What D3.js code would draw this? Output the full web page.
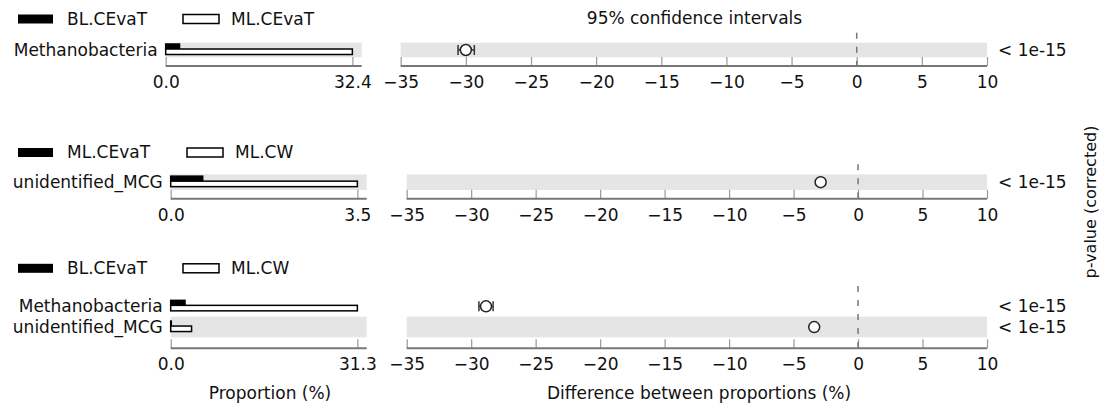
<!DOCTYPE html>
<html>
<head>
<meta charset="utf-8" />
<title>Extended error bar plot</title>
<style>
html, body {
	margin: 0px;
	padding: 0px;
	background: #fff;
}
svg text {
	font-family: "DejaVu Sans", sans-serif;
	font-size: 17px;
	fill: #111;
}
</style>
</head>
<body>

<svg id="chart" width="1101" height="407"></svg>

<script src="https://d3js.org/d3.v7.min.js"></script>
<script>

// panel 1 : BL.CEvaT vs ML.CEvaT
var groups1 = ["BL.CEvaT", "ML.CEvaT"];
var features1 = ["Methanobacteria"];
var propA1 = [2.4];
var propB1 = [32.4];
var diff1 = [-30.0];
var ciLow1 = [-30.6];
var ciHigh1 = [-29.35];
var pval1 = ["< 1e-15"];

// panel 2 : ML.CEvaT vs ML.CW
var groups2 = ["ML.CEvaT", "ML.CW"];
var features2 = ["unidentified_MCG"];
var propA2 = [0.6];
var propB2 = [3.5];
var diff2 = [-2.9];
var ciLow2 = [-3.0];
var ciHigh2 = [-2.8];
var pval2 = ["< 1e-15"];

// panel 3 : BL.CEvaT vs ML.CW
var groups3 = ["BL.CEvaT", "ML.CW"];
var features3 = ["Methanobacteria", "unidentified_MCG"];
var propA3 = [2.4, 0.1];
var propB3 = [31.3, 3.5];
var diff3 = [-28.85, -3.4];
var ciLow3 = [-29.4, -3.5];
var ciHigh3 = [-28.3, -3.3];
var pval3 = ["< 1e-15", "< 1e-15"];

// shared difference axis
var ciDomain = [-35, 10];
var ciTicks = [-35, -30, -25, -20, -15, -10, -5, 0, 5, 10];

var svg = d3.select("#chart");

// layout of each panel (pixels)
var panels = [
	{groups: groups1, features: features1, a: propA1, b: propB1, diff: diff1, lo: ciLow1, hi: ciHigh1, p: pval1,
	 legendY: 19, legend2X: 183, rowTop: 42.7, rowH: 14.6, axisY: 66, barX0: 165.7, ciX0: 400.7, shade: [0]},
	{groups: groups2, features: features2, a: propA2, b: propB2, diff: diff2, lo: ciLow2, hi: ciHigh2, p: pval2,
	 legendY: 152.5, legend2X: 187, rowTop: 174.3, rowH: 15.7, axisY: 198.7, barX0: 170.7, ciX0: 406.7, shade: [0]},
	{groups: groups3, features: features3, a: propA3, b: propB3, diff: diff3, lo: ciLow3, hi: ciHigh3, p: pval3,
	 legendY: 268.3, legend2X: 183, rowTop: 296, rowH: 20.7, axisY: 348.3, barX0: 170.7, ciX0: 406.7, shade: [1]}
];

panels.forEach(drawPanel);

// titles
svg.append("text")
	.attr("x", 694.5).attr("y", 18).attr("dy", "0.35em")
	.attr("text-anchor", "middle")
	.text("95% confidence intervals");

svg.append("text")
	.attr("x", 270).attr("y", 393).attr("dy", "0.35em")
	.attr("text-anchor", "middle")
	.text("Proportion (%)");

svg.append("text")
	.attr("x", 699).attr("y", 393).attr("dy", "0.35em")
	.attr("text-anchor", "middle")
	.text("Difference between proportions (%)");

svg.append("text")
	.attr("transform", "translate(1090,202) rotate(-90)")
	.attr("dy", "0.35em")
	.attr("text-anchor", "middle")
	.style("font-size", "16px")
	.text("p-value (corrected)");


function drawPanel(P) {
	var g = svg.append("g");

	var propMax = d3.max(P.b.concat(P.a));
	var x = d3.scaleLinear()
		.domain([0, propMax * 1.05])
		.range([P.barX0, P.barX0 + 196]);
	var xc = d3.scaleLinear()
		.domain(ciDomain)
		.range([P.ciX0, 987]);
	var y = d3.scaleBand()
		.domain(P.features)
		.range([P.rowTop, P.rowTop + P.rowH * P.features.length]);

	// legend
	g.append("rect")
		.attr("x", 18).attr("y", P.legendY - 4.5)
		.attr("width", 35).attr("height", 9)
		.attr("fill", "#000");
	g.append("text")
		.attr("x", 67).attr("y", P.legendY).attr("dy", "0.35em")
		.text(P.groups[0]);
	g.append("rect")
		.attr("x", P.legend2X).attr("y", P.legendY - 4.5)
		.attr("width", 36).attr("height", 9)
		.attr("fill", "#fff").attr("stroke", "#000").attr("stroke-width", 1.5);
	g.append("text")
		.attr("x", P.legend2X + 48).attr("y", P.legendY).attr("dy", "0.35em")
		.text(P.groups[1]);

	// grey row bands
	P.shade.forEach(function(i) {
		var f = P.features[i];
		g.append("rect")
			.attr("x", x.range()[0]).attr("y", y(f))
			.attr("width", x.range()[1] - x.range()[0]).attr("height", y.bandwidth())
			.attr("fill", "#e5e5e5");
		g.append("rect")
			.attr("x", xc.range()[0]).attr("y", y(f))
			.attr("width", xc.range()[1] - xc.range()[0]).attr("height", y.bandwidth())
			.attr("fill", "#e5e5e5");
	});

	// feature labels
	g.selectAll(".flabel")
		.data(P.features)
		.enter()
		.append("text")
			.attr("x", P.barX0 - 8)
			.attr("y", function(d) { return y(d) + y.bandwidth() / 2; })
			.attr("dy", "0.35em")
			.attr("text-anchor", "end")
			.text(function(d) { return d; });

	// proportion bars
	g.selectAll(".barA")
		.data(P.features)
		.enter()
		.append("rect")
			.attr("x", x(0))
			.attr("y", function(d) { return y(d) + y.bandwidth() / 2 - 6; })
			.attr("width", function(d, i) { return x(P.a[i]) - x(0); })
			.attr("height", 5)
			.attr("fill", "#000").attr("stroke", "#000").attr("stroke-width", 1.5);

	g.selectAll(".barB")
		.data(P.features)
		.enter()
		.append("rect")
			.attr("x", x(0))
			.attr("y", function(d) { return y(d) + y.bandwidth() / 2 - 1; })
			.attr("width", function(d, i) { return x(P.b[i]) - x(0); })
			.attr("height", 5.5)
			.attr("fill", "#fff").attr("stroke", "#000").attr("stroke-width", 1.5);

	// axes
	var axisBar = d3.axisBottom(x)
		.tickValues([0, propMax])
		.tickFormat(d3.format(".1f"))
		.tickSizeInner(-9).tickSizeOuter(0).tickPadding(10);
	var axisCi = d3.axisBottom(xc)
		.tickValues(ciTicks)
		.tickSizeInner(-9).tickSizeOuter(0).tickPadding(10);

	[[axisBar, x], [axisCi, xc]].forEach(function(pair) {
		var ag = g.append("g")
			.attr("transform", "translate(0," + P.axisY + ")")
			.call(pair[0]);
		ag.select(".domain").remove();
		ag.selectAll(".tick line").attr("stroke", "#999").attr("stroke-width", 1.2);
		ag.append("line")
			.attr("x1", pair[1].range()[0]).attr("x2", pair[1].range()[1])
			.attr("stroke", "#777").attr("stroke-width", 2);
	});

	// zero line
	g.append("line")
		.attr("x1", xc(0)).attr("x2", xc(0))
		.attr("y1", P.rowTop - 10).attr("y2", P.axisY)
		.attr("stroke", "#777").attr("stroke-width", 1.5)
		.attr("stroke-dasharray", "6,8");

	// confidence intervals
	var ci = g.selectAll(".ci")
		.data(P.features)
		.enter()
		.append("g")
			.attr("transform", function(d) { return "translate(0," + (y(d) + y.bandwidth() / 2) + ")"; });

	ci.append("line")
		.attr("x1", function(d, i) { return xc(P.lo[i]); })
		.attr("x2", function(d, i) { return xc(P.hi[i]); })
		.attr("stroke", "#333").attr("stroke-width", 1.5);
	ci.append("line")
		.attr("x1", function(d, i) { return xc(P.lo[i]); })
		.attr("x2", function(d, i) { return xc(P.lo[i]); })
		.attr("y1", -5).attr("y2", 5)
		.attr("stroke", "#333").attr("stroke-width", 1.5);
	ci.append("line")
		.attr("x1", function(d, i) { return xc(P.hi[i]); })
		.attr("x2", function(d, i) { return xc(P.hi[i]); })
		.attr("y1", -5).attr("y2", 5)
		.attr("stroke", "#333").attr("stroke-width", 1.5);
	ci.append("circle")
		.attr("cx", function(d, i) { return xc(P.diff[i]); })
		.attr("r", 5.5)
		.attr("fill", "#fff").attr("stroke", "#222").attr("stroke-width", 1.5);

	// p-values
	ci.append("text")
		.attr("x", 998).attr("dy", "0.35em")
		.text(function(d, i) { return P.p[i]; });
}

</script>
</body>
</html>
